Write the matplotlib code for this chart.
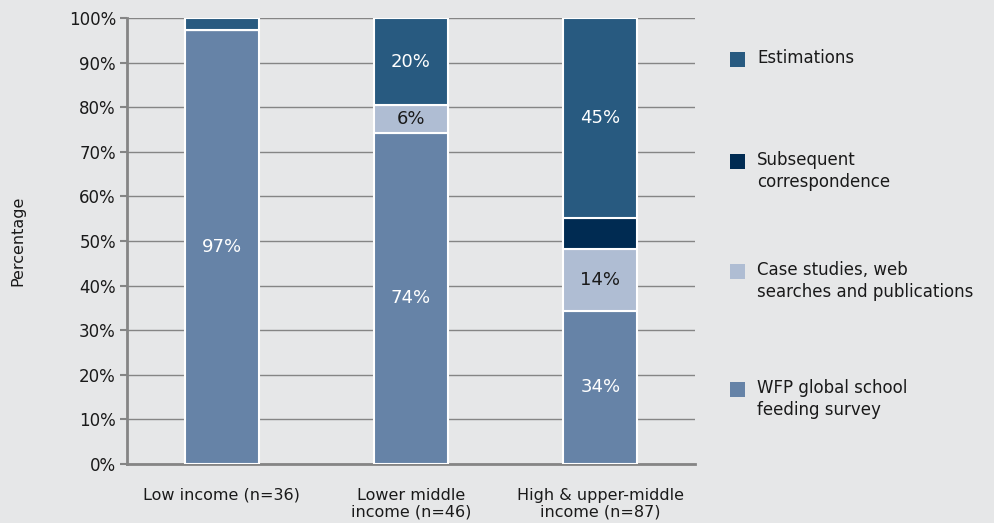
import numpy as np
import matplotlib.pyplot as plt
from matplotlib.patches import Rectangle

categories = ["Low income (n=36)", "Lower middle\nincome (n=46)", "High & upper-middle\nincome (n=87)"]
survey = [97.2, 74.3, 34.4]
case_studies = [0.0, 6.1, 13.9]
correspondence = [0.0, 0.0, 6.9]
estimations = [2.8, 19.6, 44.8]

# name, values, colour, label colour, show value labels
series = [
    ("WFP global school\nfeeding survey", survey, "#6683a7", "white", True),
    ("Case studies, web\nsearches and publications", case_studies, "#afbdd3", "#1a1a1a", True),
    ("Subsequent\ncorrespondence", correspondence, "#002b52", "white", False),
    ("Estimations", estimations, "#285a80", "white", True),
]

bg = "#e6e7e8"
grid_c = "#858585"

fig = plt.figure(figsize=(9.94, 5.23), dpi=100, facecolor=bg)
ax = fig.add_axes([127 / 994, 59 / 523, (695 - 127) / 994, (464 - 18) / 523])
ax.set_facecolor(bg)

x = np.arange(len(categories))
bottom = np.zeros(len(categories))
for name, vals, color, tcol, show in series:
    vals = np.array(vals)
    ax.bar(x, vals, width=0.39, bottom=bottom, color=color, edgecolor="white",
           linewidth=1.5, zorder=3)
    if show:
        for xi, b, v in zip(x, bottom, vals):
            if v > 5:
                ax.text(xi, b + v / 2, f"{round(v)}%", ha="center", va="center",
                        color=tcol, fontsize=13, zorder=4)
    bottom += vals

ax.set_xlim(-0.5, 2.5)
ax.set_ylim(0, 100)
ax.set_yticks(np.arange(0, 101, 10))
ax.set_yticklabels([f"{v}%" for v in range(0, 101, 10)], fontsize=12, color="#1a1a1a")
ax.set_xticks(x)
ax.set_xticklabels(categories, fontsize=11.5, color="#1a1a1a", linespacing=1.15)
ax.tick_params(axis="x", length=0, pad=17)
ax.tick_params(axis="y", length=5, width=1.5, color=grid_c, direction="out", pad=3)
ax.yaxis.grid(True, color=grid_c, linewidth=1.0, zorder=0)
ax.set_axisbelow(True)
for s in ["top", "right"]:
    ax.spines[s].set_visible(False)
for s in ["left", "bottom"]:
    ax.spines[s].set_color(grid_c)
    ax.spines[s].set_linewidth(2)

fig.text(18 / 994, 1 - 241 / 523, "Percentage", rotation=90, ha="center", va="center",
         fontsize=11.5, color="#1a1a1a")

# legend, drawn by hand to match the spaced-out layout
leg_tops = [52, 154, 264, 382]
for (name, vals, color, tcol, show), top in zip(series[::-1], leg_tops):
    fig.patches.append(Rectangle((730 / 994, 1 - (top + 15) / 523), 15 / 994, 15 / 523,
                                 transform=fig.transFigure, facecolor=color,
                                 edgecolor="none"))
    fig.text(757 / 994, 1 - (top - 3) / 523, name, ha="left", va="top",
             fontsize=12, color="#1a1a1a", linespacing=1.3)

fig.savefig("out.png", dpi=100, facecolor=bg)
